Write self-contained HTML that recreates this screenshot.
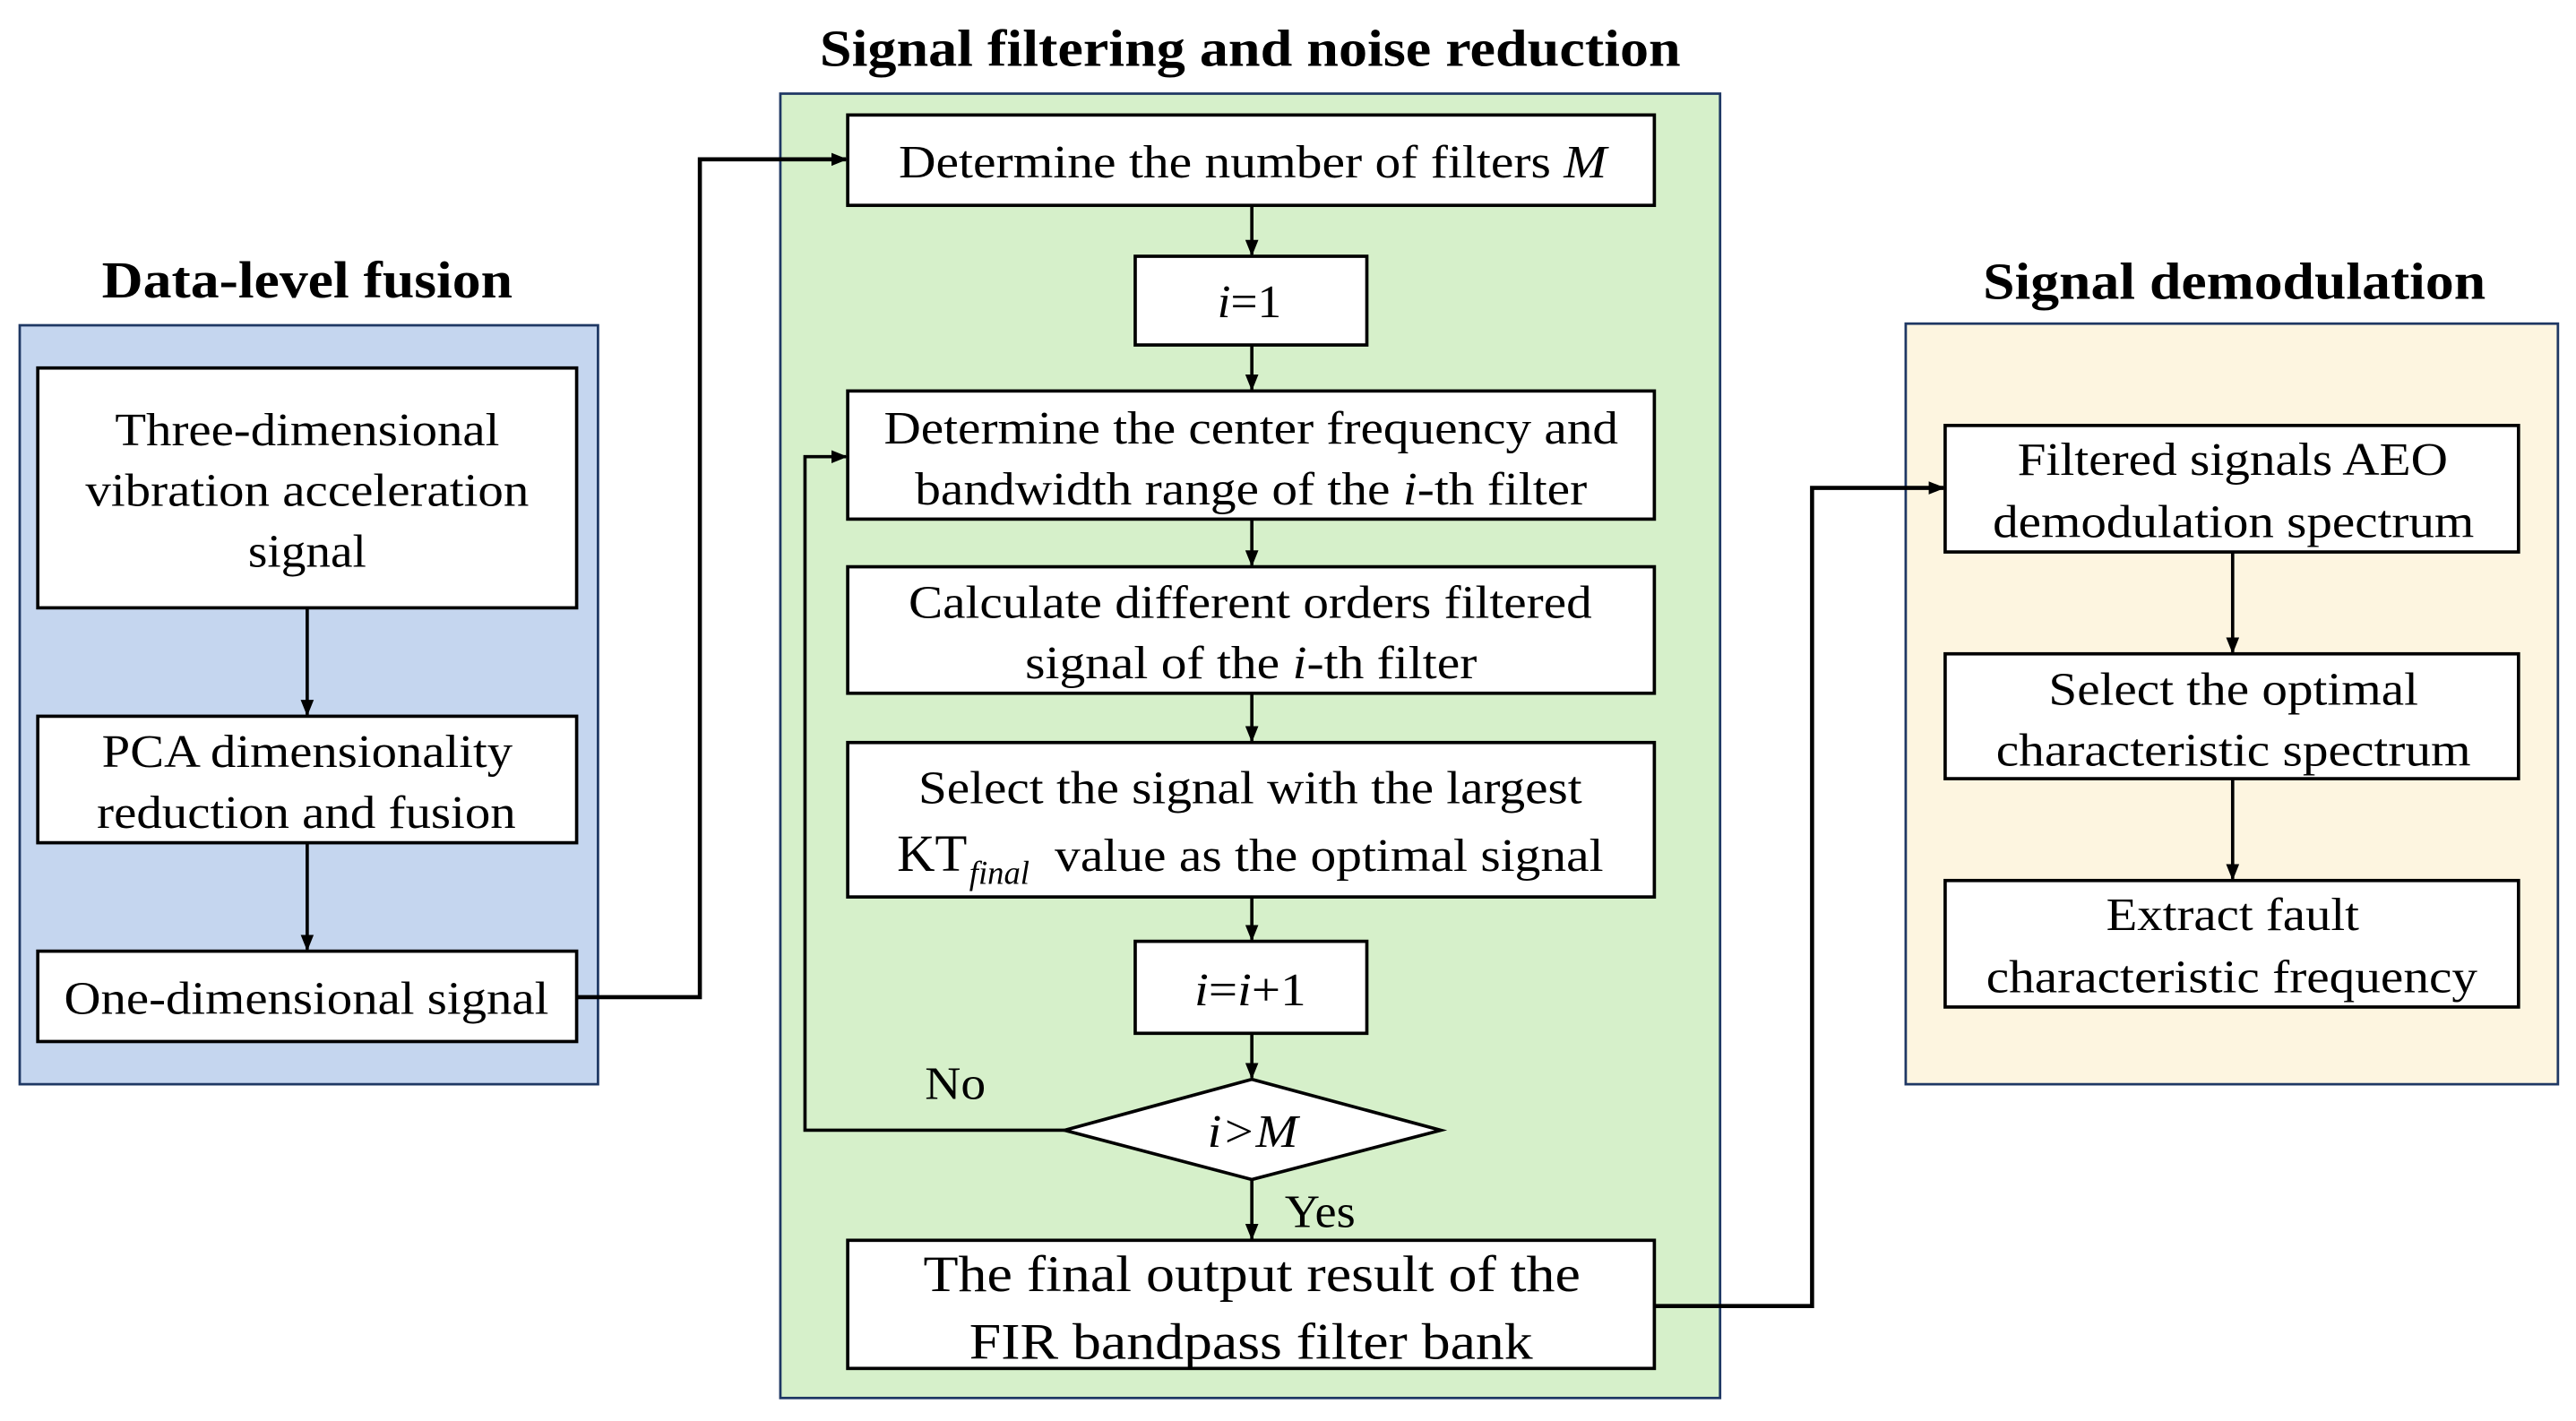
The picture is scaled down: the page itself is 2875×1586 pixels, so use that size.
<!DOCTYPE html>
<html><head><meta charset="utf-8"><style>
html,body{margin:0;padding:0;background:#fff;}
svg{display:block;}
text{font-family:"Liberation Serif",serif;fill:#000;}
.t{font-size:28px;}
.h{font-size:32px;font-weight:bold;}
</style></head><body>
<svg width="2875" height="1586" viewBox="0 0 1568 865" preserveAspectRatio="none" xmlns="http://www.w3.org/2000/svg">
<defs>
<marker id="a" markerWidth="10" markerHeight="10" refX="9" refY="5" orient="auto" markerUnits="userSpaceOnUse">
<path d="M0,1 L10,5 L0,9 Z" fill="#000"/>
</marker>
</defs>
<rect x="0" y="0" width="1568" height="865" fill="#fff"/>
<!-- Titles -->
<text class="h" x="62" y="181" textLength="250" lengthAdjust="spacingAndGlyphs">Data-level fusion</text>
<text class="h" x="499" y="40" textLength="524" lengthAdjust="spacingAndGlyphs">Signal filtering and noise reduction</text>
<text class="h" x="1207" y="182" textLength="306" lengthAdjust="spacingAndGlyphs">Signal demodulation</text>
<!-- Panels -->
<rect x="12" y="198" width="352" height="462" fill="#c5d6ef" stroke="#1f3864" stroke-width="1.5"/>
<rect x="475" y="57" width="572" height="794" fill="#d6f0ca" stroke="#1f3864" stroke-width="1.5"/>
<rect x="1160" y="197" width="397" height="463" fill="#fdf5e0" stroke="#1f3864" stroke-width="1.5"/>
<g fill="#fff" stroke="#000" stroke-width="2">
<rect x="23" y="224" width="328" height="146"/>
<rect x="23" y="436" width="328" height="77"/>
<rect x="23" y="579" width="328" height="55"/>
<rect x="516" y="70" width="491" height="55"/>
<rect x="691" y="156" width="141" height="54"/>
<rect x="516" y="238" width="491" height="78"/>
<rect x="516" y="345" width="491" height="77"/>
<rect x="516" y="452" width="491" height="94"/>
<rect x="691" y="573" width="141" height="56"/>
<polygon points="648,688 762,657 877,688 762,718"/>
<rect x="516" y="755" width="491" height="78"/>
<rect x="1184" y="259" width="349" height="77"/>
<rect x="1184" y="398" width="349" height="76"/>
<rect x="1184" y="536" width="349" height="77"/>
</g>
<!-- Connectors -->
<g stroke="#000" stroke-width="2" fill="none">
<line x1="187" y1="370" x2="187" y2="435" marker-end="url(#a)"/>
<line x1="187" y1="513" x2="187" y2="578" marker-end="url(#a)"/>
<line x1="762" y1="125" x2="762" y2="155" marker-end="url(#a)"/>
<line x1="762" y1="210" x2="762" y2="237" marker-end="url(#a)"/>
<line x1="762" y1="316" x2="762" y2="344" marker-end="url(#a)"/>
<line x1="762" y1="422" x2="762" y2="451" marker-end="url(#a)"/>
<line x1="762" y1="546" x2="762" y2="572" marker-end="url(#a)"/>
<line x1="762" y1="629" x2="762" y2="656" marker-end="url(#a)"/>
<line x1="762" y1="718" x2="762" y2="754" marker-end="url(#a)"/>
<line x1="1359" y1="336" x2="1359" y2="397" marker-end="url(#a)"/>
<line x1="1359" y1="474" x2="1359" y2="535" marker-end="url(#a)"/>
<polyline points="648,688 490,688 490,278 515,278" marker-end="url(#a)"/>
<polyline points="351,607 426,607 426,97 515,97" stroke-width="2.5" marker-end="url(#a)"/>
<polyline points="1007,795 1103,795 1103,297 1183,297" stroke-width="2.5" marker-end="url(#a)"/>
</g>
<!-- Texts -->
<text class="t" x="70" y="271" textLength="234" lengthAdjust="spacingAndGlyphs">Three-dimensional</text>
<text class="t" x="52" y="308" textLength="270" lengthAdjust="spacingAndGlyphs">vibration acceleration</text>
<text class="t" x="151" y="345" textLength="72" lengthAdjust="spacingAndGlyphs">signal</text>
<text class="t" x="62" y="467" textLength="250" lengthAdjust="spacingAndGlyphs">PCA dimensionality</text>
<text class="t" x="59" y="504" textLength="255" lengthAdjust="spacingAndGlyphs">reduction and fusion</text>
<text class="t" x="39" y="617" textLength="295" lengthAdjust="spacingAndGlyphs">One-dimensional signal</text>
<text class="t" x="547" y="108" textLength="431" lengthAdjust="spacingAndGlyphs">Determine the number of filters <tspan font-style="italic">M</tspan></text>
<text class="t" x="741" y="193" textLength="39" lengthAdjust="spacingAndGlyphs"><tspan font-style="italic">i</tspan>=1</text>
<text class="t" x="538" y="270" textLength="447" lengthAdjust="spacingAndGlyphs">Determine the center frequency and</text>
<text class="t" x="557" y="307" textLength="409" lengthAdjust="spacingAndGlyphs">bandwidth range of the <tspan font-style="italic">i</tspan>-th filter</text>
<text class="t" x="553" y="376" textLength="416" lengthAdjust="spacingAndGlyphs">Calculate different orders filtered</text>
<text class="t" x="624" y="413" textLength="275" lengthAdjust="spacingAndGlyphs">signal of the <tspan font-style="italic">i</tspan>-th filter</text>
<text class="t" x="559" y="489" textLength="404" lengthAdjust="spacingAndGlyphs">Select the signal with the largest</text>
<text x="546" y="530" font-size="32">KT</text>
<text x="590" y="538" font-size="20" font-style="italic">final</text>
<text class="t" x="642" y="530" textLength="334" lengthAdjust="spacingAndGlyphs">value as the optimal signal</text>
<text class="t" x="727" y="612" textLength="68" lengthAdjust="spacingAndGlyphs"><tspan font-style="italic">i</tspan>=<tspan font-style="italic">i</tspan>+1</text>
<text class="t" x="735" y="698" textLength="55" lengthAdjust="spacingAndGlyphs" font-style="italic">i&gt;M</text>
<text class="t" x="563" y="669" textLength="37" lengthAdjust="spacingAndGlyphs">No</text>
<text class="t" x="782" y="747" textLength="43" lengthAdjust="spacingAndGlyphs">Yes</text>
<text x="562" y="786" font-size="31" textLength="400" lengthAdjust="spacingAndGlyphs">The final output result of the</text>
<text x="590" y="827" font-size="31" textLength="343" lengthAdjust="spacingAndGlyphs">FIR bandpass filter bank</text>
<text class="t" x="1228" y="289" textLength="262" lengthAdjust="spacingAndGlyphs">Filtered signals AEO</text>
<text class="t" x="1213" y="327" textLength="293" lengthAdjust="spacingAndGlyphs">demodulation spectrum</text>
<text class="t" x="1247" y="429" textLength="225" lengthAdjust="spacingAndGlyphs">Select the optimal</text>
<text class="t" x="1215" y="466" textLength="289" lengthAdjust="spacingAndGlyphs">characteristic spectrum</text>
<text class="t" x="1282" y="566" textLength="154" lengthAdjust="spacingAndGlyphs">Extract fault</text>
<text class="t" x="1209" y="604" textLength="299" lengthAdjust="spacingAndGlyphs">characteristic frequency</text>
</svg>
</body></html>
